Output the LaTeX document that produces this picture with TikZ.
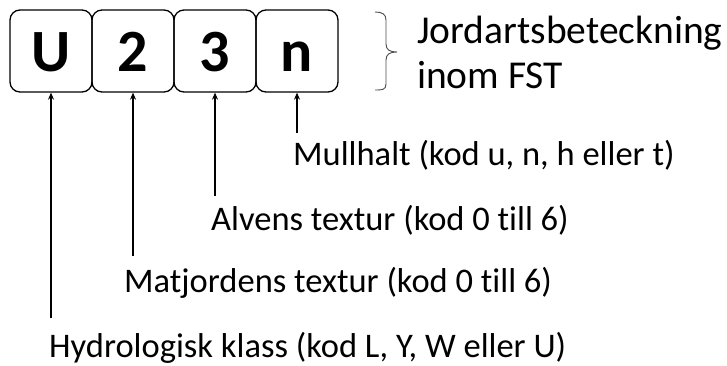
\documentclass[tikz,border=0pt]{standalone}
\usepackage{fontspec}
\setmainfont{Carlito}[Ligatures=NoCommon]
\usetikzlibrary{arrows.meta}
\begin{document}
\begin{tikzpicture}[x=1pt,y=-1pt,
  codebox/.style={draw, line width=1.3pt, rounded corners=10pt, minimum width=82pt,
    minimum height=82pt, inner sep=0pt, text height=40pt, text depth=0pt,
    font=\fontsize{60}{60}\selectfont\bfseries},
  label/.style={anchor=base west, inner sep=0pt, font=\fontsize{34.5}{40}\selectfont},
  caption/.style={anchor=base west, inner sep=0pt, font=\fontsize{39.5}{46}\selectfont},
  pointer/.style={line width=1.3pt, -{Stealth[length=7pt,width=6pt]}}]
\useasboundingbox (0,0) rectangle (727,365);
% the four code characters
\node[codebox] (b1) at (51,51) {U};
\node[codebox] (b2) at (133,51) {2};
\node[codebox] (b3) at (215,51) {3};
\node[codebox] (b4) at (297,51) {n};
% brace with its caption
\draw[line width=0.9pt, draw=black!70]
  (375,12) .. controls (382,12) and (386,14) .. (386,20)
  -- (386,44) .. controls (386,50) and (390,52) .. (397,52)
  .. controls (390,52) and (386,54) .. (386,60)
  -- (386,84) .. controls (386,90) and (382,90) .. (375,90);
\node[caption] (cap1) at (417,43) {Jordartsbeteckning};
\node[caption] (cap2) at (417,88) {inom FST};
% explanations
\node[label] (l4) at (293,165) {Mullhalt (kod u, n, h eller t)};
\node[label] (l3) at (211,230) {Alvens textur (kod 0 till 6)};
\node[label] (l2) at (124,292) {Matjordens textur (kod 0 till 6)};
\node[label] (l1) at (49,357) {Hydrologisk klass (kod L, Y, W eller U)};
\coordinate (t4) at (297,133);
\coordinate (t3) at (215,196);
\coordinate (t2) at (133,256);
\coordinate (t1) at (51,318);
\draw[pointer] (t4) -- (b4.south);
\draw[pointer] (t3) -- (b3.south);
\draw[pointer] (t2) -- (b2.south);
\draw[pointer] (t1) -- (b1.south);
\end{tikzpicture}
\end{document}
